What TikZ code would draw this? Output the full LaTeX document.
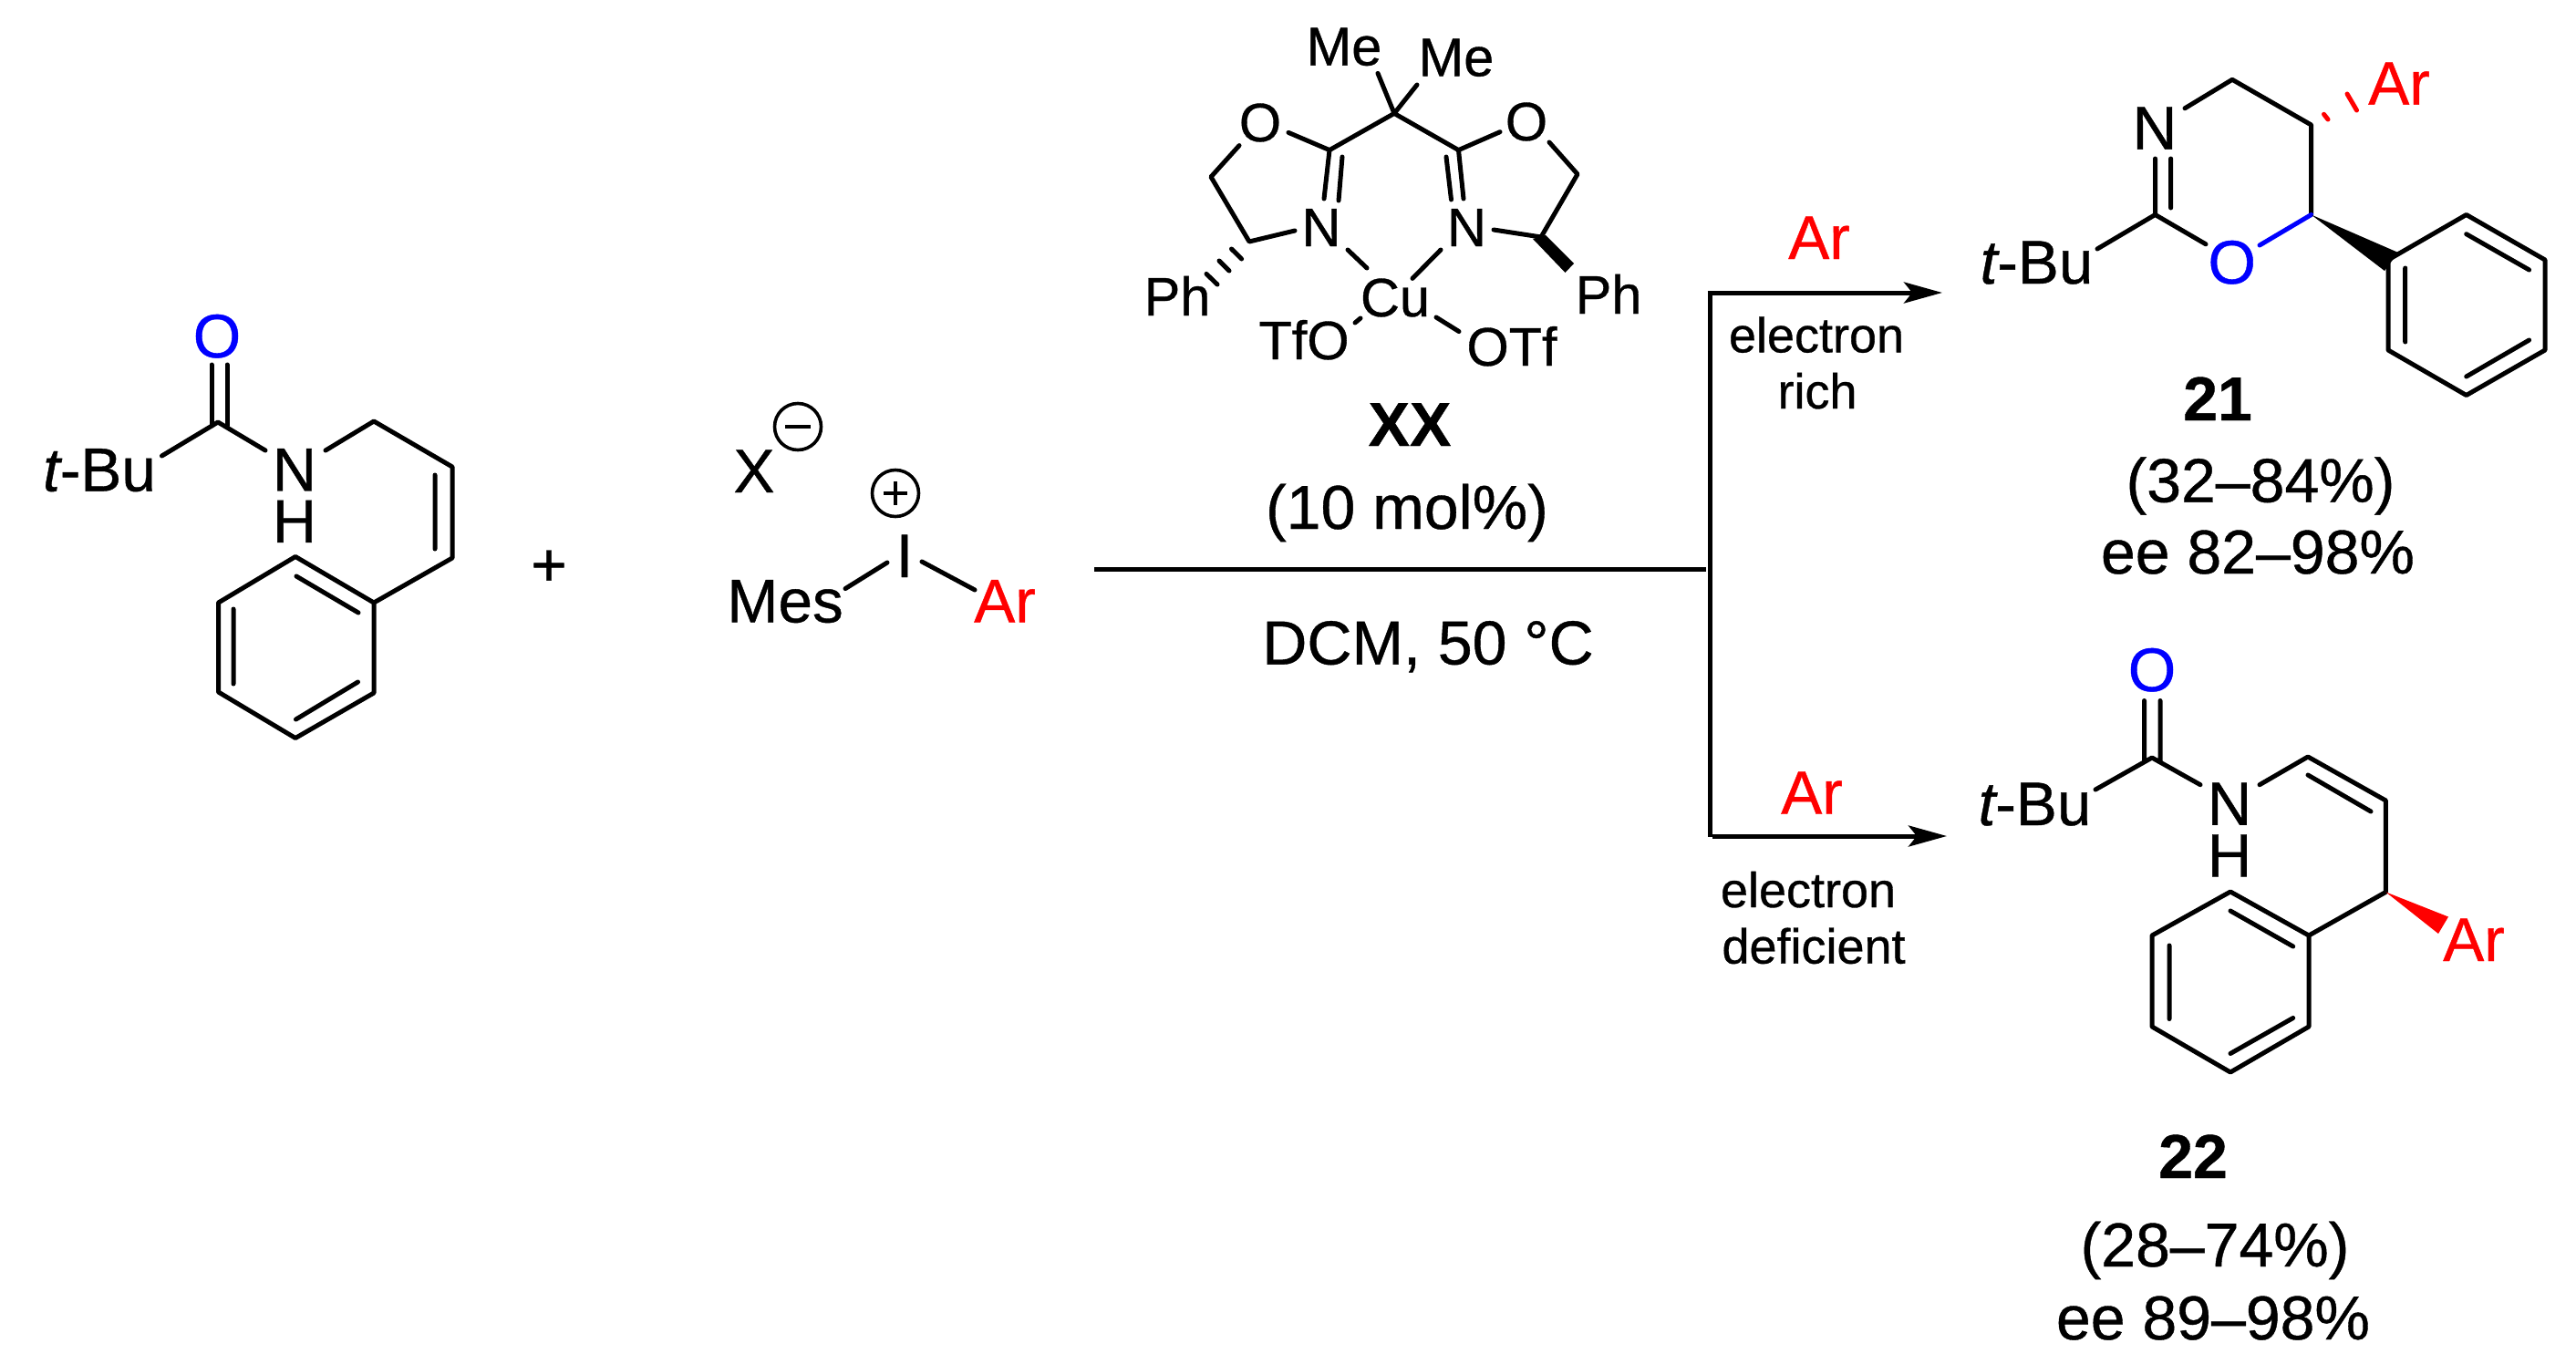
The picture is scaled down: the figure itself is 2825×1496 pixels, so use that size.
\documentclass[tikz,border=0pt]{standalone}
\usepackage{fontspec}
\setmainfont{Liberation Sans}[FakeBold=0.6]
\usetikzlibrary{arrows.meta}
\definecolor{oxy}{RGB}{0,0,255}
\definecolor{aryl}{RGB}{255,0,0}
\newcommand{\fsA}{\fontsize{67.5}{72}\selectfont}
\newcommand{\fsB}{\fontsize{59.5}{62}\selectfont}
\newcommand{\fsC}{\fontsize{68}{72}\selectfont}
\newcommand{\fsD}{\fontsize{54}{58}\selectfont}
\newcommand{\fsNH}{\fontsize{67}{56.6}\selectfont}
\newcommand{\pts}[1]{\foreach \n/\x/\y in {#1} \coordinate (\n) at (\x,\y);}
\tikzset{
  bond/.style={line width=5pt,line cap=round,line join=round},
  rxn/.style={line width=5pt,line cap=butt},
  rxnarrow/.style={rxn,-{Stealth[length=42pt,width=23pt,inset=9pt]}},
  chg/.style={line width=3.6pt},
  txtbig/.style={anchor=base,inner sep=0pt,font=\fsA},
  txtnh/.style={anchor=center,align=center,inner sep=0pt,font=\fsNH},
  txtlig/.style={anchor=base,inner sep=0pt,font=\fsB},
  txtcap/.style={anchor=base,inner sep=0pt,font=\fsC},
  txtbold/.style={anchor=base,inner sep=0pt,font=\fsC\bfseries},
  txtsmall/.style={anchor=base,inner sep=0pt,font=\fsD},
}
\begin{document}
\begin{tikzpicture}[x=1pt,y=-1pt]
\useasboundingbox (0,0) rectangle (2825,1496);
% ---------- substrate
\pts{a1/239/463,a2/177.5/500,a3/291/494,a4/357/494,a5/410/462,a6/496/512,a7/496/612,
 r1/324/610.5,r2/410/661,r3/410/760,r4/324/809.5,r5/239.5/759,r6/239.5/661,
 co1/232/400,co1b/232/467,co2/249/400,co2b/249/467,
 a6i/477/521,a7i/477/602,i1/325/632,i2/393/672,i3/256/668,i4/256/750,i5/392.5/748,i6/324.5/789}
\node[txtbig,text=oxy] (sO) at (238,392) {O};
\node[txtbig] (stBu) at (109,538.6) {{\itshape t}-Bu};
\node[txtnh] (sNH) at (323,543.5) {N\\H};
\draw[bond] (co1)--(co1b) (co2)--(co2b);
\draw[bond] (a2)--(a1)--(a3) (a4)--(a5)--(a6)--(a7)--(r2)--(r1)--(r6)--(r5)--(r4)--(r3)--(r2);
\draw[bond] (a6i)--(a7i) (i1)--(i2) (i3)--(i4) (i5)--(i6);
\node[anchor=center,inner sep=0pt,font=\fsA] (plus) at (602,623) {+};
% ---------- iodonium
\pts{im1/927/645.6,im2/973/617,ia1/1011/616,ia2/1069/647,mn1/861/468,mn2/889/468,
 pl1/969/541,pl2/995/541,pl3/982/528,pl4/982/554}
\node[txtbig] (X) at (827,540) {X};
\node[txtbig] (I) at (992,633) {I};
\node[txtbig] (Mes) at (861,682.5) {Mes};
\node[txtbig,text=aryl] (iAr) at (1102,682.5) {Ar};
\node[circle,draw,chg,minimum size=51pt,inner sep=0pt] (minusc) at (875,468) {};
\node[circle,draw,chg,minimum size=51pt,inner sep=0pt] (plusc) at (982,541) {};
\draw[chg,line width=4.5pt] (mn1)--(mn2) (pl1)--(pl2) (pl3)--(pl4);
\draw[bond] (im1)--(im2) (ia1)--(ia2);
% ---------- ligand
\pts{c0/1529/124.4,me1/1511/80.4,me2/1554/93,cl/1458/164.6,cr/1599.5/164.6,
 ol/1413/145.4,or/1645/144.7,nl1/1452/218,nl2a/1472/172,nl2/1468/220,
 nr1/1605/218,nr2a/1586/172,nr2/1591.5/219,
 oc1/1359/159.6,ch1/1328/194,cs1/1370/265,nb1/1420/253,
 oc2/1699/156,ch2/1730/191,cs2/1690/260,nb2/1638/252,
 wr0/1681/262,wr3/1695/258,wr1/1726/289,wr2/1716.5/299,
 h1a/1350.5/273,h1b/1361.6/284,h2a/1337/286,h2b/1348/297,h3a/1323/300.4,h3b/1335/312,
 cu1/1478/274,cu2/1499/294,cu3/1580/274,cu4/1549/305.4,
 cu5/1486/354,cu6/1492/349,cu7/1575/348,cu8/1600/363.6}
\node[txtlig] (Me1) at (1474,71.6) {Me};
\node[txtlig] (Me2) at (1597,83.4) {Me};
\node[txtlig] (Ol) at (1382,155) {O};
\node[txtlig] (Or) at (1674,154) {O};
\node[txtlig] (Nl) at (1449,270) {N};
\node[txtlig] (Nr) at (1608.5,270) {N};
\node[txtlig] (Phl) at (1291,346) {Ph};
\node[txtlig] (Phr) at (1764,344) {Ph};
\node[txtlig] (Cu) at (1530,347) {Cu};
\node[txtlig] (TfO) at (1430,394) {TfO};
\node[txtlig] (OTf) at (1658,401) {OTf};
\draw[bond] (me1)--(c0)--(me2) (ol)--(cl)--(c0)--(cr)--(or);
\draw[bond] (cl)--(nl1) (nl2a)--(nl2) (cr)--(nr1) (nr2a)--(nr2);
\draw[bond] (oc1)--(ch1)--(cs1)--(nb1) (oc2)--(ch2)--(cs2)--(nb2);
\fill (wr0)--(wr3)--(wr1)--(wr2)--cycle;
\draw[bond] (h1a)--(h1b) (h2a)--(h2b) (h3a)--(h3b);
\draw[bond] (cu1)--(cu2) (cu3)--(cu4) (cu5)--(cu6) (cu7)--(cu8);
\node[txtbold] (XX) at (1546,489) {XX};
\node[txtcap] (mol) at (1543,580) {(10 mol\%)};
\node[txtcap] (dcm) at (1566,728.6) {DCM, 50 °C};
% ---------- reaction lines
\pts{st/1200/624,jn/1871/624,vt/1875/319,vb/1875/918,up/2130/321,lo0/1878/917,lo/2135/917,vt0/1872.6/321}
\draw[rxn] (st)--(jn);
\draw[rxn] (vt)--(vb);
\draw[rxnarrow] (vt0)--(up);
\draw[rxnarrow] (lo0)--(lo);
\node[txtbig,text=aryl] (Ar1) at (1995,284) {Ar};
\node[txtsmall] (el1) at (1992,386.4) {electron};
\node[txtsmall] (ri1) at (1993,448) {rich};
\node[txtbig,text=aryl] (Ar2) at (1987,892.7) {Ar};
\node[txtsmall] (el2) at (1983,995) {electron};
\node[txtsmall] (de2) at (1989,1056.7) {deficient};
% ---------- product 21
\pts{p1/2396/118.8,p2/2448/87.3,p3/2534.6/137,p4/2534.6/235.5,p5/2363.5/235.5,
 p6/2363.5/174,p7/2380.6/174,p8/2380.6/228,p9/2300/273,p10/2419/267.8,p11/2478/269,
 w1/2630/277,w2/2615/297,
 q1/2619/285,q2/2704.7/235.5,q3/2791/285,q4/2791/384,q5/2704.7/433.5,q6/2619/384,
 qa/2704.7/256.7,qb/2773.6/296,qc/2637.7/294,qd/2637.7/375,qe/2704.7/413,qf/2773.6/373,
 ha/2548.5/125.3,hb/2553/131,hc/2574/103,hd/2584.5/121}
\node[txtbig] (pN) at (2363,163.7) {N};
\node[txtbig,text=oxy] (pO) at (2447.7,311) {O};
\node[txtbig,text=aryl] (pAr) at (2631,114.7) {Ar};
\node[txtbig] (ptBu) at (2233.5,311) {{\itshape t}-Bu};
\draw[bond] (p1)--(p2)--(p3)--(p4) (p6)--(p5)--(p9) (p5)--(p10) (p7)--(p8);
\draw[bond,oxy] (p11)--(p4);
\fill (p4)--(w1)--(w2)--cycle;
\draw[bond] (q1)--(q2)--(q3)--(q4)--(q5)--(q6)--cycle;
\draw[bond] (qa)--(qb) (qc)--(qd) (qe)--(qf);
\draw[bond,aryl] (ha)--(hb) (hc)--(hd);
\node[txtbold] (n21) at (2432,461) {21};
\node[txtcap] (y21) at (2479,550.6) {(32–84\%)};
\node[txtcap] (e21) at (2476,629) {ee 82–98\%};
% ---------- product 22
\pts{s1/2351.5/768.5,s2/2351.5/835,s3/2369/768.5,s4/2369/835,s5/2360/831,s6/2298/866,s7/2413/860.7,
 s8/2478/860.7,s9/2531/830,s10/2616.4/878,s11/2616.4/978.4,
 t1/2446/978,t2/2532/1026,t3/2532/1126,t4/2446/1176,t5/2360/1126,t6/2360/1026,
 ta/2446/999,tb/2514.7/1038,tc/2379/1037,td/2379/1117.5,te/2446/1155.5,tf/2514.7/1116.5,
 ti/2531/850,tj/2600/890,v1/2685/1005.5,v2/2674/1024}
\node[txtbig,text=oxy] (uO) at (2360,758) {O};
\node[txtbig] (utBu) at (2231.5,905) {{\itshape t}-Bu};
\node[txtnh] (uNH) at (2445,910) {N\\H};
\node[txtbig,text=aryl] (uAr) at (2713,1054) {Ar};
\draw[bond] (s1)--(s2) (s3)--(s4) (s6)--(s5)--(s7) (s8)--(s9)--(s10)--(s11)--(t2);
\draw[bond] (ti)--(tj);
\draw[bond] (t1)--(t2)--(t3)--(t4)--(t5)--(t6)--cycle;
\draw[bond] (ta)--(tb) (tc)--(td) (te)--(tf);
\fill[aryl] (s11)--(v1)--(v2)--cycle;
\node[txtbold] (n22) at (2405,1292) {22};
\node[txtcap] (y22) at (2429,1389) {(28–74\%)};
\node[txtcap] (e22) at (2427,1469) {ee 89–98\%};
\end{tikzpicture}
\end{document}
